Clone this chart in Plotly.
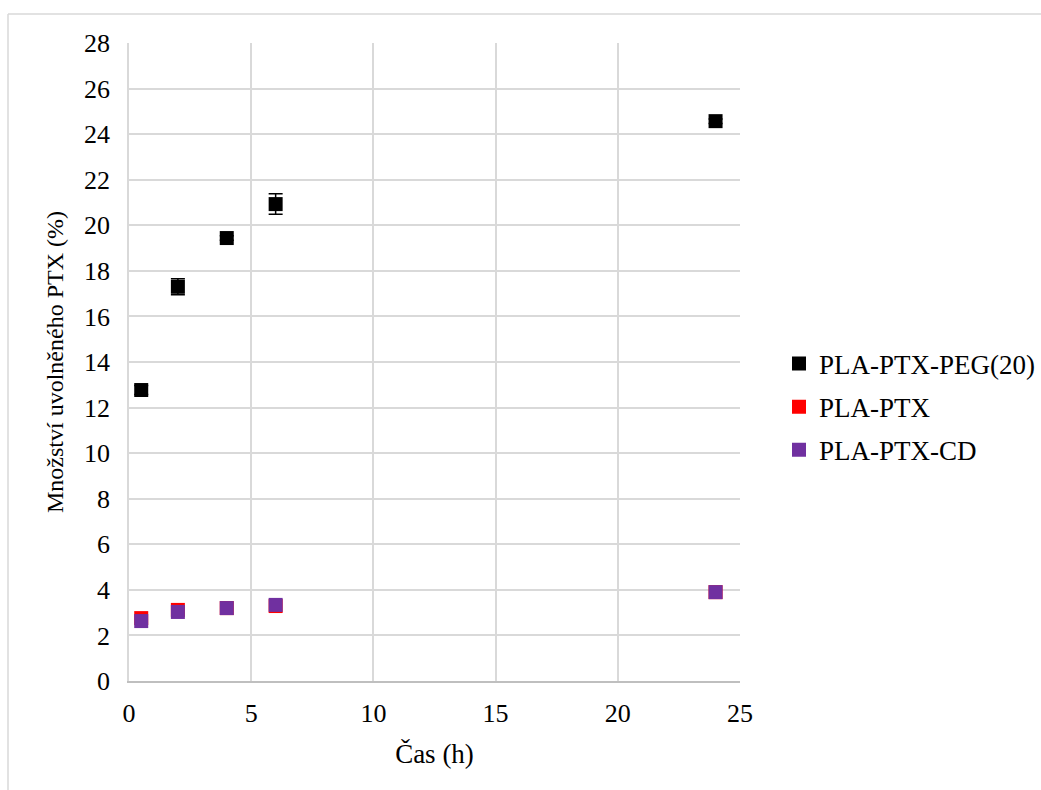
import plotly.graph_objects as go

time_h = [0.5, 2, 4, 6, 24]
peg_vals = [12.77, 17.3, 19.44, 20.93, 24.57]
peg_err = [0.2, 0.35, 0.1, 0.45, 0.1]
ptx_vals = [2.76, 3.12, 3.2, 3.29, 3.9]
cd_vals = [2.63, 3.03, 3.2, 3.34, 3.9]

names = ["PLA-PTX-PEG(20)", "PLA-PTX", "PLA-PTX-CD"]
colors = ["#000000", "#ff0000", "#7030a0"]
x_ticks = [0, 5, 10, 15, 20, 25]
y_ticks = list(range(0, 29, 2))

FONT = "Liberation Serif"
TICK_FS = 26
XT_FS = 27
YT_FS = 24
LEG_FS = 27

fig = go.Figure()
fig.add_trace(go.Scatter(
    x=time_h, y=peg_vals, mode="markers", name=names[0], legendgroup="g0",
    marker=dict(symbol="square", size=14, color=colors[0]),
    error_y=dict(type="data", array=peg_err, color="#000000", thickness=1.5, width=7),
))
fig.add_trace(go.Scatter(
    x=time_h, y=ptx_vals, mode="markers", name=names[1], legendgroup="g1",
    marker=dict(symbol="square", size=14, color=colors[1]),
))
fig.add_trace(go.Scatter(
    x=time_h, y=cd_vals, mode="markers", name=names[2], legendgroup="g2",
    marker=dict(symbol="square", size=14, color=colors[2]),
))

L, T = 129, 43
W, H = 1041, 790
R, B = 740, 681
pw, ph = R - L, B - T

def px_x(p):
    return (p - L) / pw

def px_y(p):
    return (B - p) / ph

fig.update_layout(
    width=W, height=H,
    margin=dict(l=L, r=W - R, t=T, b=H - B, pad=0, autoexpand=False),
    paper_bgcolor="white", plot_bgcolor="white",
    font=dict(family=FONT, size=TICK_FS, color="#000000"),
    showlegend=True,
    legend=dict(
        x=px_x(779), y=px_y(407), xanchor="left", yanchor="middle",
        font=dict(family=FONT, size=LEG_FS, color="#000000"),
        bgcolor="rgba(0,0,0,0)", itemwidth=30,
        traceorder="grouped", tracegroupgap=5,
    ),
)
fig.update_xaxes(
    range=[0, 25], tickmode="array", tickvals=x_ticks, ticktext=[str(v) for v in x_ticks],
    tickfont_family=FONT, tickfont_size=TICK_FS, tickfont_color="#000000",
    showgrid=True, gridcolor="#d9d9d9", gridwidth=1.5,
    showline=True, linecolor="#bfbfbf", linewidth=1.5,
    zeroline=False, ticks="", ticklabelstandoff=8,
    title=dict(text="Čas (h)", font=dict(family=FONT, size=XT_FS), standoff=17),
)
fig.update_yaxes(
    range=[0, 28], tickmode="array", tickvals=y_ticks, ticktext=[str(v) for v in y_ticks],
    tickfont_family=FONT, tickfont_size=TICK_FS, tickfont_color="#000000",
    showgrid=True, gridcolor="#d9d9d9", gridwidth=1.5,
    showline=True, linecolor="#d9d9d9", linewidth=1.5,
    zeroline=False, ticks="", ticklabelstandoff=12,
    title=dict(text="Množství uvolněného PTX (%)", font=dict(family=FONT, size=YT_FS), standoff=14),
)
fig.update_layout(shapes=[
    dict(type="line", xref="paper", yref="paper",
         x0=px_x(8), x1=px_x(8), y0=px_y(H + 5), y1=px_y(14),
         line=dict(color="#d9d9d9", width=1.5)),
    dict(type="line", xref="paper", yref="paper",
         x0=px_x(8), x1=px_x(W + 5), y0=px_y(14), y1=px_y(14),
         line=dict(color="#d9d9d9", width=1.5)),
])

fig.write_html("out.html")
